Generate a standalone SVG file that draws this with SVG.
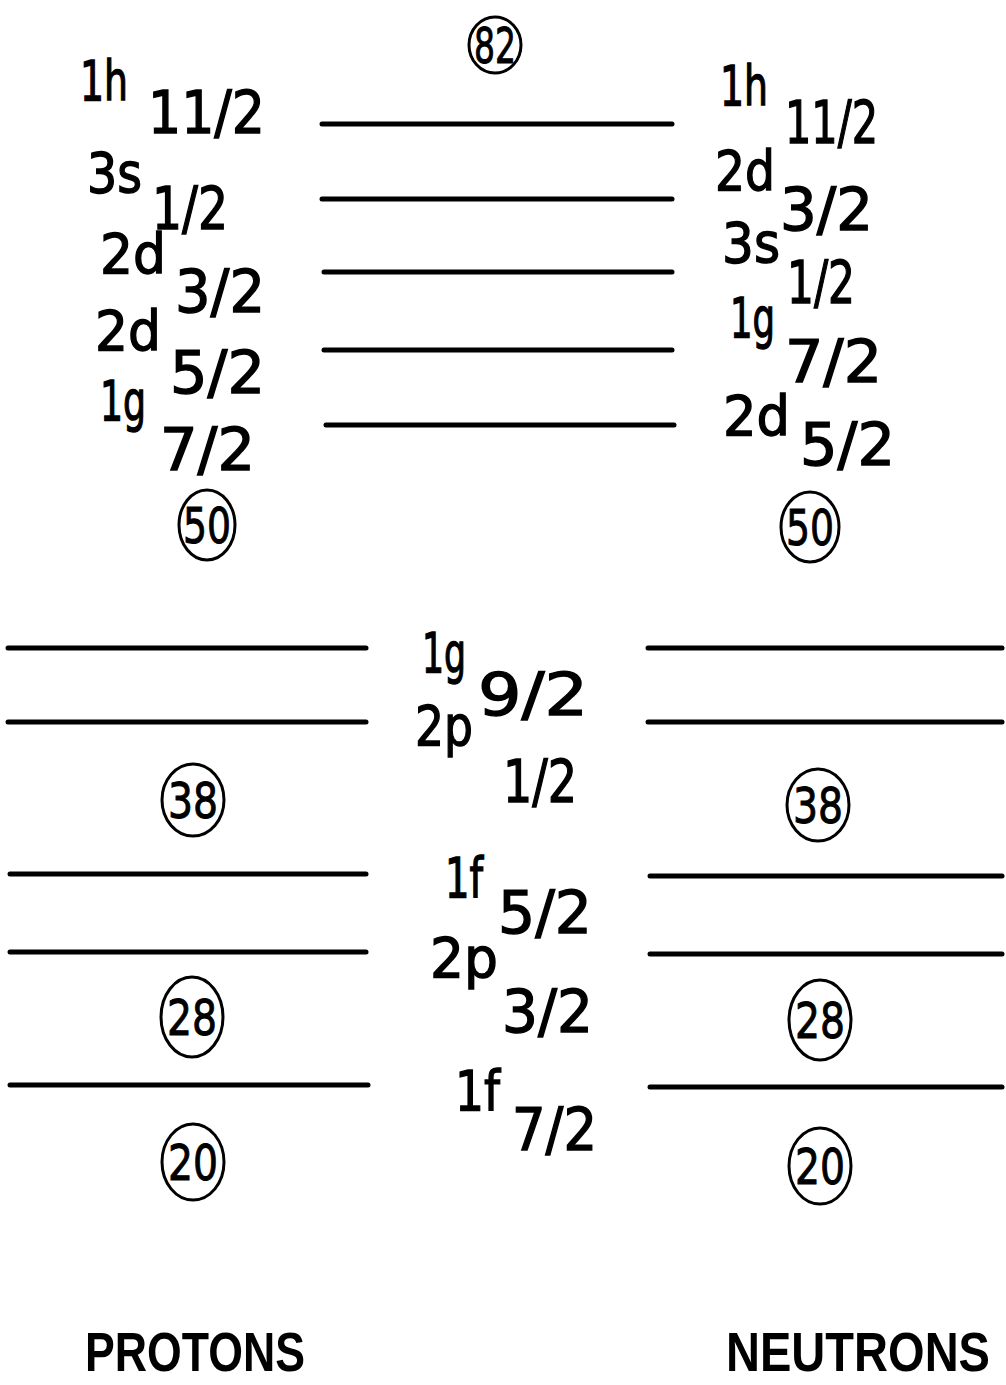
<svg xmlns="http://www.w3.org/2000/svg" width="1006" height="1385" viewBox="0 0 1006 1385">
<style>
text{font-family:"DejaVu Sans","Liberation Sans",sans-serif;fill:#000}
.m{font-size:56px;stroke:#000;stroke-width:1.4}
.s{font-size:58px;stroke:#000;stroke-width:1.4}
.n{font-size:50px;stroke:#000;stroke-width:1}
.t{font-family:"Liberation Sans",Arial,sans-serif;font-size:48px;font-weight:bold}
.lv{stroke:#000;stroke-width:5;stroke-linecap:round;fill:none}
.c{stroke:#000;stroke-width:3;fill:none}
</style>
<rect width="1006" height="1385" fill="#fff"/>
<g id="levels" class="lv">
<line x1="322" y1="124" x2="672" y2="124"/>
<line x1="322" y1="199" x2="672" y2="199"/>
<line x1="324" y1="272" x2="672" y2="272"/>
<line x1="324" y1="350" x2="672" y2="350"/>
<line x1="326" y1="425" x2="674" y2="425"/>
<line x1="8" y1="648" x2="366" y2="648"/>
<line x1="8" y1="722" x2="366" y2="722"/>
<line x1="10" y1="874" x2="366" y2="874"/>
<line x1="10" y1="952" x2="366" y2="952"/>
<line x1="10" y1="1085" x2="368" y2="1085"/>
<line x1="648" y1="648" x2="1002" y2="648"/>
<line x1="648" y1="722" x2="1002" y2="722"/>
<line x1="650" y1="876" x2="1002" y2="876"/>
<line x1="650" y1="954" x2="1002" y2="954"/>
<line x1="650" y1="1087" x2="1002" y2="1087"/>
</g>
<g id="magic">
<g id="m82"><ellipse class="c" cx="495" cy="45" rx="26" ry="28"/><text class="n" x="495" y="63" text-anchor="middle" textLength="42" lengthAdjust="spacingAndGlyphs">82</text></g>
<g id="m50p"><ellipse class="c" cx="207" cy="525" rx="28" ry="35"/><text class="n" x="207" y="543" text-anchor="middle" textLength="48" lengthAdjust="spacingAndGlyphs">50</text></g>
<g id="m50n"><ellipse class="c" cx="810" cy="527" rx="29" ry="35"/><text class="n" x="810" y="545" text-anchor="middle" textLength="48" lengthAdjust="spacingAndGlyphs">50</text></g>
<g id="m38p"><ellipse class="c" cx="193" cy="800" rx="31" ry="36"/><text class="n" x="193" y="818" text-anchor="middle" textLength="50" lengthAdjust="spacingAndGlyphs">38</text></g>
<g id="m38n"><ellipse class="c" cx="818" cy="805" rx="31" ry="36"/><text class="n" x="818" y="823" text-anchor="middle" textLength="50" lengthAdjust="spacingAndGlyphs">38</text></g>
<g id="m28p"><ellipse class="c" cx="192" cy="1017" rx="31" ry="40"/><text class="n" x="192" y="1035" text-anchor="middle" textLength="50" lengthAdjust="spacingAndGlyphs">28</text></g>
<g id="m28n"><ellipse class="c" cx="820" cy="1020" rx="31" ry="40"/><text class="n" x="820" y="1038" text-anchor="middle" textLength="50" lengthAdjust="spacingAndGlyphs">28</text></g>
<g id="m20p"><ellipse class="c" cx="193" cy="1162" rx="31" ry="38"/><text class="n" x="193" y="1180" text-anchor="middle" textLength="50" lengthAdjust="spacingAndGlyphs">20</text></g>
<g id="m20n"><ellipse class="c" cx="820" cy="1166" rx="31" ry="38"/><text class="n" x="820" y="1184" text-anchor="middle" textLength="50" lengthAdjust="spacingAndGlyphs">20</text></g>
</g>
<g id="proton-labels">
<g id="p-1h11"><text class="m" x="80" y="100" textLength="48" lengthAdjust="spacingAndGlyphs">1h</text><text class="s" x="148" y="133" textLength="117" lengthAdjust="spacingAndGlyphs">11/2</text></g>
<g id="p-3s1"><text class="m" x="87" y="192" textLength="55" lengthAdjust="spacingAndGlyphs">3s</text><text class="s" x="152" y="229" textLength="76" lengthAdjust="spacingAndGlyphs">1/2</text></g>
<g id="p-2d3"><text class="m" x="100" y="273" textLength="66" lengthAdjust="spacingAndGlyphs">2d</text><text class="s" x="175" y="312" textLength="90" lengthAdjust="spacingAndGlyphs">3/2</text></g>
<g id="p-2d5"><text class="m" x="95" y="350" textLength="66" lengthAdjust="spacingAndGlyphs">2d</text><text class="s" x="170" y="393" textLength="95" lengthAdjust="spacingAndGlyphs">5/2</text></g>
<g id="p-1g7"><text class="m" x="100" y="420" textLength="46" lengthAdjust="spacingAndGlyphs">1g</text><text class="s" x="160" y="470" textLength="95" lengthAdjust="spacingAndGlyphs">7/2</text></g>
</g>
<g id="neutron-labels">
<g id="n-1h11"><text class="m" x="720" y="105" textLength="48" lengthAdjust="spacingAndGlyphs">1h</text><text class="s" x="785" y="143" textLength="93" lengthAdjust="spacingAndGlyphs">11/2</text></g>
<g id="n-2d3"><text class="m" x="715" y="190" textLength="60" lengthAdjust="spacingAndGlyphs">2d</text><text class="s" x="780" y="230" textLength="93" lengthAdjust="spacingAndGlyphs">3/2</text></g>
<g id="n-3s1"><text class="m" x="722" y="262" textLength="58" lengthAdjust="spacingAndGlyphs">3s</text><text class="s" x="787" y="303" textLength="68" lengthAdjust="spacingAndGlyphs">1/2</text></g>
<g id="n-1g7"><text class="m" x="730" y="337" textLength="45" lengthAdjust="spacingAndGlyphs">1g</text><text class="s" x="785" y="382" textLength="97" lengthAdjust="spacingAndGlyphs">7/2</text></g>
<g id="n-2d5"><text class="m" x="723" y="435" textLength="67" lengthAdjust="spacingAndGlyphs">2d</text><text class="s" x="800" y="465" textLength="95" lengthAdjust="spacingAndGlyphs">5/2</text></g>
</g>
<g id="shared-labels">
<g id="c-1g9"><text class="m" x="422" y="672" textLength="44" lengthAdjust="spacingAndGlyphs">1g</text><text class="s" x="478" y="715" textLength="110" lengthAdjust="spacingAndGlyphs">9/2</text></g>
<g id="c-2p1"><text class="m" x="415" y="745" textLength="58" lengthAdjust="spacingAndGlyphs">2p</text><text class="s" x="503" y="802" textLength="74" lengthAdjust="spacingAndGlyphs">1/2</text></g>
<g id="c-1f5"><text class="m" x="445" y="897" textLength="38" lengthAdjust="spacingAndGlyphs">1f</text><text class="s" x="498" y="933" textLength="94" lengthAdjust="spacingAndGlyphs">5/2</text></g>
<g id="c-2p3"><text class="m" x="430" y="977" textLength="68" lengthAdjust="spacingAndGlyphs">2p</text><text class="s" x="502" y="1032" textLength="91" lengthAdjust="spacingAndGlyphs">3/2</text></g>
<g id="c-1f7"><text class="m" x="455" y="1110" textLength="45" lengthAdjust="spacingAndGlyphs">1f</text><text class="s" x="512" y="1150" textLength="85" lengthAdjust="spacingAndGlyphs">7/2</text></g>
</g>
<g id="titles">
<text id="protons" class="t" transform="translate(85,1371) scale(1,1.15)" x="0" y="0" textLength="220" lengthAdjust="spacingAndGlyphs">PROTONS</text>
<text id="neutrons" class="t" transform="translate(726,1371) scale(1,1.15)" x="0" y="0" textLength="264" lengthAdjust="spacingAndGlyphs">NEUTRONS</text>
</g>
</svg>
